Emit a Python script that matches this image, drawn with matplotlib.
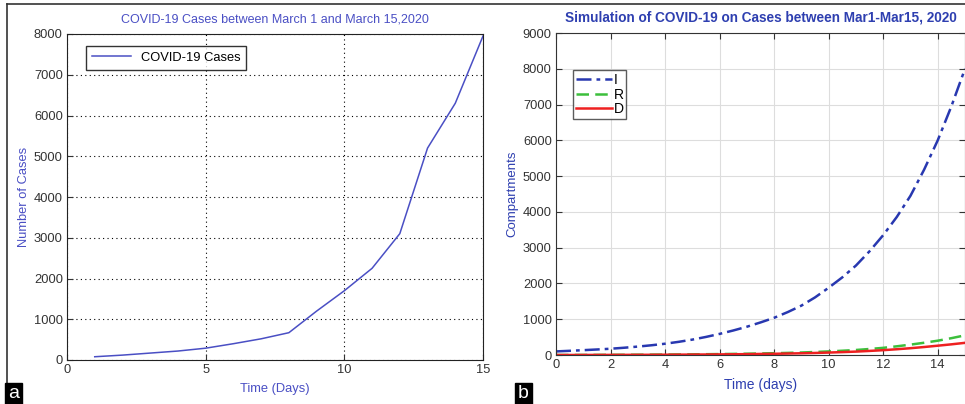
import numpy as np
import matplotlib.pyplot as plt
from matplotlib.lines import Line2D

plt.rcParams['font.family'] = ['Liberation Sans', 'DejaVu Sans']

# Panel a: reported cases
days = [1, 2, 3, 4, 5, 6, 7, 8, 9, 10, 11, 12, 13, 14, 15]
cases = [80, 120, 170, 220, 290, 400, 520, 670, 1200, 1700, 2250, 3100, 5200, 6300, 7950]

# Panel b: simulated compartments (read at half-day steps)
t_sim = [0, 0.5, 1, 1.5, 2, 2.5, 3, 3.5, 4, 4.5, 5, 5.5, 6, 6.5, 7, 7.5,
         8, 8.5, 9, 9.5, 10, 10.5, 11, 11.5, 12, 12.5, 13, 13.5, 14, 14.5, 15]
I_sim = [100, 117, 135, 154, 175, 203, 235, 272, 315, 368, 430, 505, 590, 685, 790, 910,
         1040, 1200, 1380, 1610, 1880, 2170, 2500, 2900, 3350, 3860, 4450, 5180, 6000, 6950, 8000]
R_sim = [0, 1, 2, 3, 5, 6, 8, 10, 12, 15, 18, 22, 26, 31, 36, 43,
         50, 59, 70, 84, 100, 119, 140, 168, 200, 243, 290, 342, 400, 470, 550]
D_sim = [0, 0, 1, 2, 3, 4, 5, 6, 8, 10, 12, 14, 17, 20, 24, 29,
         34, 41, 48, 57, 68, 81, 95, 114, 135, 161, 190, 223, 260, 298, 340]

fig = plt.figure(figsize=(9.65, 4.04), dpi=100)
W, H = 965, 404

def box(x0, y0, x1, y1):
    return [x0 / W, 1 - y1 / H, (x1 - x0) / W, (y1 - y0) / H]

# outer frame lines
fig.add_artist(Line2D([7 / W, 1], [1 - 4 / H, 1 - 4 / H], color='#333333', lw=1.2))
fig.add_artist(Line2D([7 / W, 7 / W], [1 - 4 / H, 1 - 385 / H], color='#333333', lw=1.2))

blue_a = '#4a4fc4'
tick_col = '#333333'

# ---- panel a
ax1 = fig.add_axes(box(67, 34, 483, 360))
ax1.plot(days, cases, color=blue_a, lw=1.1, label='COVID-19 Cases')
ax1.set_xlim(0, 15)
ax1.set_ylim(0, 8000)
ax1.set_xticks([0, 5, 10, 15])
ax1.set_yticks(range(0, 8001, 1000))
ax1.grid(True, color='black', linestyle=(0, (1, 3)), lw=0.8)
ax1.tick_params(direction='in', labelsize=9.3, colors=tick_col, length=4, pad=3)
for s in ax1.spines.values():
    s.set_color('#222222')
ax1.set_title('COVID-19 Cases between March 1 and March 15,2020', color=blue_a, fontsize=9, pad=8)
ax1.set_xlabel('Time (Days)', color=blue_a, fontsize=9.3, labelpad=5)
ax1.set_ylabel('Number of Cases', color=blue_a, fontsize=9.3, labelpad=3)
leg1 = ax1.legend(loc='upper left', bbox_to_anchor=(0.046, 0.963), borderaxespad=0, fontsize=9.3,
                  fancybox=False, edgecolor='black', handlelength=3.0, borderpad=0.45)
leg1.get_frame().set_linewidth(1.0)

# ---- panel b
blue_b = '#2e3fb0'
ax2 = fig.add_axes(box(556, 33, 965, 355))
ax2.plot(t_sim, I_sim, color='#2838b0', lw=1.8, linestyle=(0, (6, 2, 1.5, 2)), label='I')
ax2.plot(t_sim, R_sim, color='#3cbf3c', lw=1.8, linestyle=(0, (5, 2.5)), label='R')
ax2.plot(t_sim, D_sim, color='#ee2020', lw=1.8, label='D')
ax2.set_xlim(0, 15)
ax2.set_ylim(0, 9000)
ax2.set_xticks(range(0, 15, 2))
ax2.set_yticks(range(0, 9001, 1000))
ax2.grid(True, color='#dddddd', lw=0.8)
ax2.tick_params(direction='in', labelsize=9.3, colors=tick_col, length=4, top=True, right=True, pad=3)
for s in ax2.spines.values():
    s.set_color('#333333')
ax2.set_title('Simulation of COVID-19 on Cases between Mar1-Mar15, 2020', color=blue_b,
              fontsize=9.8, fontweight='bold', pad=8)
ax2.set_xlabel('Time (days)', color=blue_b, fontsize=10, labelpad=5)
ax2.set_ylabel('Compartments', color=blue_b, fontsize=9.5, labelpad=3)
leg2 = ax2.legend(loc='upper left', bbox_to_anchor=(0.042, 0.885), borderaxespad=0, fontsize=10,
                  fancybox=False, edgecolor='#333333', handlelength=2.6, borderpad=0.2,
                  labelspacing=0.05, handletextpad=0.1)
leg2.get_frame().set_linewidth(1.0)

# panel tags
fig.text(8 / W, 1 - 394 / H, 'a', color='white', fontsize=14, va='center', ha='left',
         bbox=dict(boxstyle='square,pad=0.15', facecolor='black', edgecolor='black'))
fig.text(518 / W, 1 - 394 / H, 'b', color='white', fontsize=14, va='center', ha='left',
         bbox=dict(boxstyle='square,pad=0.15', facecolor='black', edgecolor='black'))

fig.savefig('out.png', dpi=100)
